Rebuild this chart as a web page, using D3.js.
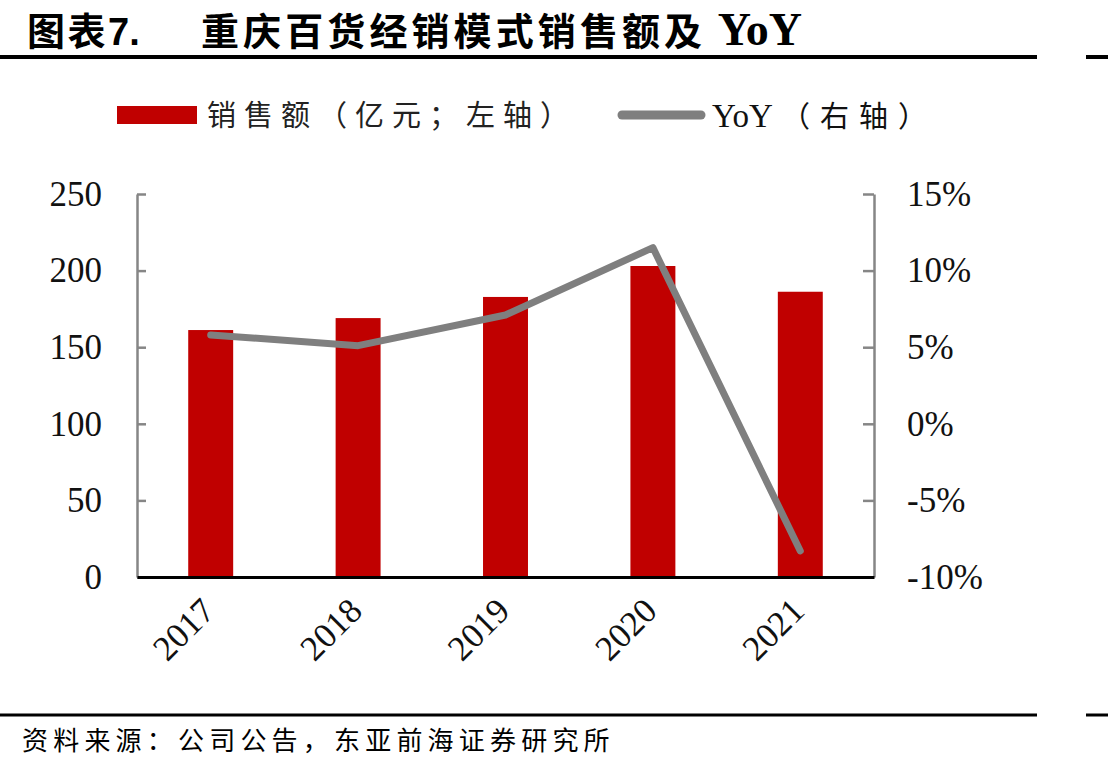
<!DOCTYPE html>
<html>
<head>
<meta charset="utf-8">
<script src="https://cdn.jsdelivr.net/npm/d3@7"></script>
<style>
  html, body { margin: 0; padding: 0; background: #fff; }
  svg { display: block; }
</style>
</head>
<body>
<svg id="chart" width="1108" height="769"></svg>
<script>
// ---- data ----
const years = ["2017", "2018", "2019", "2020", "2021"];
const sales = [161.2, 169.0, 182.8, 203.0, 186.2];      // 亿元, left axis
const yoy = [5.8, 5.1, 7.1, 11.5, -8.3];                 // %, right axis
const leftTicks = [0, 50, 100, 150, 200, 250];
const rightTicks = [-10, -5, 0, 5, 10, 15];

const svg = d3.select("#chart");
const serif = "'Liberation Serif','Times New Roman',serif";
const cjk = "'Noto Sans CJK SC','Noto Sans CJK JP',sans-serif";

// ---- scales ----
const plotL = 137, plotR = 874, plotT = 194, plotB = 577;
const x = d3.scaleBand().domain(years).range([plotL, plotR])
  .paddingInner(0.695).paddingOuter(0.3475);
const yL = d3.scaleLinear().domain([0, 250]).range([plotB, plotT]);
const yR = d3.scaleLinear().domain([-10, 15]).range([plotB, plotT]);

// ---- title ----
const title = svg.append("text").attr("y", 45).attr("font-weight", "bold").attr("fill", "#000");
title.append("tspan").attr("x", 27).attr("font-family", cjk).attr("font-size", 38).attr("letter-spacing", 2.5).text("图表");
title.append("tspan").attr("font-family", "'Liberation Sans',Arial,sans-serif").attr("font-size", 38).text("7.");
title.append("tspan").attr("x", 201).attr("font-family", cjk).attr("font-size", 38).attr("letter-spacing", 4.1).text("重庆百货经销模式销售额及");
title.append("tspan").attr("font-family", serif).attr("font-size", 46).text(" YoY");

// header / footer rules
[[57, 4], [715, 3]].forEach(([yy, w]) => {
  svg.append("line").attr("x1", 0).attr("x2", 1037).attr("y1", yy).attr("y2", yy)
    .attr("stroke", "#000").attr("stroke-width", w);
  svg.append("line").attr("x1", 1086).attr("x2", 1108).attr("y1", yy).attr("y2", yy)
    .attr("stroke", "#000").attr("stroke-width", w);
});

// footer
svg.append("text").attr("x", 22).attr("y", 750).attr("font-family", cjk)
  .attr("font-size", 26).attr("letter-spacing", 5.2).attr("fill", "#000")
  .text("资料来源：公司公告，东亚前海证券研究所");

// ---- legend ----
svg.append("rect").attr("x", 117).attr("y", 106).attr("width", 80).attr("height", 18).attr("fill", "#C00000");
svg.append("text").attr("x", 207).attr("y", 126).attr("font-family", cjk).attr("font-size", 29)
  .attr("letter-spacing", 8).attr("fill", "#222").text("销售额（亿元；左轴）");
svg.append("line").attr("x1", 622).attr("x2", 701).attr("y1", 115).attr("y2", 115)
  .attr("stroke", "#7F7F7F").attr("stroke-width", 9).attr("stroke-linecap", "round");
const lg2 = svg.append("text").attr("x", 712).attr("y", 127).attr("fill", "#111");
lg2.append("tspan").attr("font-family", serif).attr("font-size", 33).text("YoY");
lg2.append("tspan").attr("dx", 8).attr("font-family", cjk).attr("font-size", 29).attr("letter-spacing", 10).text("（右轴）");

// ---- bars ----
svg.append("g").selectAll("rect").data(years).join("rect")
  .attr("x", d => x(d)).attr("width", x.bandwidth())
  .attr("y", (d, i) => yL(sales[i])).attr("height", (d, i) => yL(0) - yL(sales[i]))
  .attr("fill", "#C00000");

// ---- axes ----
const axL = svg.append("g").attr("transform", `translate(${plotL},0)`)
  .call(d3.axisLeft(yL).tickValues(leftTicks).tickSizeInner(-9).tickSizeOuter(0).tickPadding(35));
const axR = svg.append("g").attr("transform", `translate(${plotR},0)`)
  .call(d3.axisRight(yR).tickValues(rightTicks).tickSizeInner(-11).tickSizeOuter(0).tickPadding(33)
    .tickFormat(d => d + "%"));
[axL, axR].forEach(ax => {
  ax.selectAll("path.domain").attr("stroke", "#868686").attr("stroke-width", 2.5);
  ax.selectAll(".tick line").attr("stroke", "#868686").attr("stroke-width", 2.5);
  ax.selectAll(".tick text").attr("font-family", serif).attr("font-size", 35).attr("fill", "#111");
});

const axX = svg.append("g").attr("transform", `translate(0,${plotB})`)
  .call(d3.axisBottom(x).tickSize(0).tickSizeOuter(0));
axX.select("path.domain").attr("stroke", "#000").attr("stroke-width", 3);
axX.selectAll(".tick text")
  .attr("font-family", serif).attr("font-size", 35).attr("fill", "#111")
  .attr("text-anchor", "end").attr("dy", 0).attr("y", 0)
  .attr("transform", "translate(6,36) rotate(-45)");

// ---- YoY line ----
const line = d3.line().x((d, i) => x(years[i]) + x.bandwidth() / 2).y(d => yR(d));
svg.append("path").datum(yoy).attr("d", line).attr("fill", "none")
  .attr("stroke", "#7F7F7F").attr("stroke-width", 7)
  .attr("stroke-linecap", "round").attr("stroke-linejoin", "round");
</script>
</body>
</html>
